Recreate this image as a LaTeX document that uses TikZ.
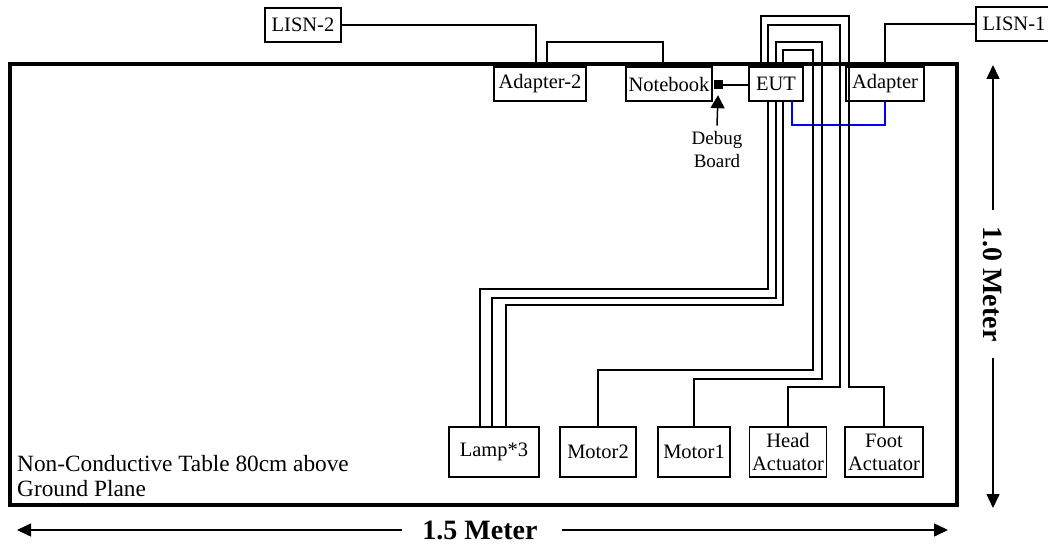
\documentclass[tikz,border=0pt]{standalone}
\usepackage{fontspec}
\setmainfont{Liberation Serif}
\usetikzlibrary{arrows.meta}

\begin{document}
\begin{tikzpicture}[x=1pt,y=-1pt,
  box/.style={draw,line width=1.6pt,inner sep=0pt,minimum height=34pt,font=\fontsize{20.5}{23}\selectfont},
  lowbox/.style={box,minimum height=50pt,align=center},
  wire/.style={line width=1.3pt},
  dimarrow/.style={line width=1.5pt,-{Triangle[length=14pt,width=13pt]}},
  dimtext/.style={inner sep=0pt,font=\fontsize{28}{32}\selectfont\bfseries}]
\useasboundingbox (0,0) rectangle (1048,553);
\draw[line width=4pt] (10,64) rectangle (957,505);
\node[anchor=west,align=left,inner sep=0pt,font=\fontsize{23.3}{25}\selectfont] (tabletext) at (17,476) {Non-Conductive Table 80cm above\\Ground Plane};
\node[box,minimum width=76pt] (lisn2) at (303,25) {LISN-2};
\node[box,minimum width=76pt] (lisn1) at (1014,24) {LISN-1};
\node[box,minimum width=92pt] (adapter2) at (540,84) {Adapter-2};
\node[box,minimum width=86pt] (notebook) at (669,84) {Notebook};
\node[box,minimum width=54pt] (eut) at (776,84) {EUT};
\node[box,minimum width=78pt] (adapter) at (885,84) {Adapter};
\node[fill,inner sep=0pt,minimum size=9pt] (debug) at (718,85) {};
\node[align=center,inner sep=0pt,font=\fontsize{19}{23}\selectfont] (debugtext) at (717,150) {Debug\\Board};
\node[lowbox,minimum width=90pt] (lamp) at (494,452) {Lamp*3};
\node[lowbox,minimum width=76pt] (motor2) at (598,452) {Motor2};
\node[lowbox,minimum width=72pt] (motor1) at (694,452) {Motor1};
\node[lowbox,minimum width=77pt] (head) at (788,452) {Head\\Actuator};
\node[lowbox,minimum width=78pt] (foot) at (884,452) {Foot\\Actuator};
% power and link cables
\draw[wire] (lisn2.east) -| ([xshift=-4pt]adapter2.north);
\draw[wire] ([xshift=7pt]adapter2.north) |- (663,42) -- ([xshift=-6pt]notebook.north);
\draw[wire] (debug) -- (eut.west |- debug);
\draw[wire] (adapter.north) |- (lisn1.west);
\draw[wire,blue] ([xshift=16pt]eut.south) |- (885,125) -- (adapter.south);
\draw[line width=1.5pt,-{Triangle[length=13pt,width=14pt]}] ([yshift=6pt]debugtext.north) -- ([yshift=-5.5pt]debug.south);
% cables to the loads
\draw[wire] ([xshift=-15pt]eut.north) |- (849,16) |- (884,387) -- (foot.north);
\draw[wire] ([xshift=-8pt]eut.north) |- (840,25) |- (788,387) -- (head.north);
\draw[wire] (eut.north) |- (822,42) |- (694,379) -- (motor1.north);
\draw[wire] ([xshift=7pt]eut.north) |- (813,50) |- (598,370) -- (motor2.north);
\draw[wire] ([xshift=-8pt]eut.south) |- (480,289) -- ([xshift=-14pt]lamp.north);
\draw[wire] (eut.south) |- (492,298) -- ([xshift=-2pt]lamp.north);
\draw[wire] ([xshift=7pt]eut.south) |- (506,305) -- ([xshift=12pt]lamp.north);
% dimensions
\node[dimtext] (width) at (480,530) {1.5 Meter};
\coordinate (wl) at (17,530);
\coordinate (wr) at (948,530);
\draw[dimarrow] ([xshift=-20pt]width.west) -- (wl);
\draw[dimarrow] ([xshift=24pt]width.east) -- (wr);
\node[dimtext,rotate=-90] (height) at (993,284) {1.0 Meter};
\coordinate (ht) at (993,65);
\coordinate (hb) at (993,508);
\draw[dimarrow] ([yshift=16pt]height.west) -- (ht);
\draw[dimarrow] ([yshift=-16pt]height.east) -- (hb);
\end{tikzpicture}
\end{document}
